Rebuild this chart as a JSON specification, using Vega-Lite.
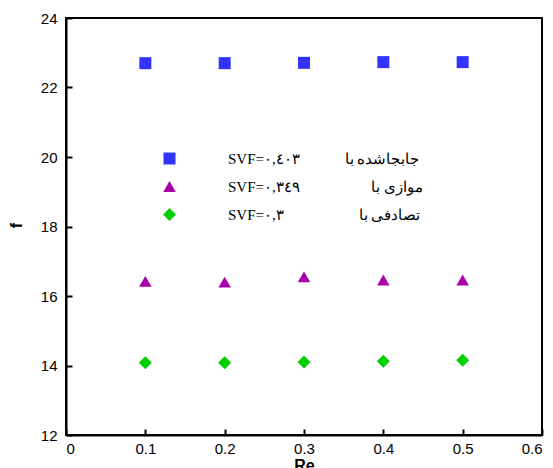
{
  "$schema": "https://vega.github.io/schema/vega-lite/v6.json",
  "width": 476,
  "height": 417,
  "autosize": {"type": "none"},
  "padding": {"left": 66, "top": 18, "right": 11, "bottom": 33},
  "background": "white",
  "config": {
    "view": {"stroke": "black", "strokeWidth": 2},
    "axis": {
      "grid": false,
      "domainColor": "black",
      "domainWidth": 2,
      "tickColor": "black",
      "tickWidth": 2,
      "tickSize": -6,
      "labelFont": "Liberation Sans",
      "labelFontSize": 15,
      "labelColor": "black",
      "titleFont": "Liberation Sans",
      "titleFontSize": 16,
      "titleFontWeight": "bold",
      "titleColor": "black"
    }
  },
  "data": {
    "values": [
      {"Re": 0.1, "f": 22.70, "s": "a"},
      {"Re": 0.2, "f": 22.70, "s": "a"},
      {"Re": 0.3, "f": 22.71, "s": "a"},
      {"Re": 0.4, "f": 22.73, "s": "a"},
      {"Re": 0.5, "f": 22.73, "s": "a"},
      {"Re": 0.1, "f": 16.42, "s": "b"},
      {"Re": 0.2, "f": 16.40, "s": "b"},
      {"Re": 0.3, "f": 16.55, "s": "b"},
      {"Re": 0.4, "f": 16.46, "s": "b"},
      {"Re": 0.5, "f": 16.46, "s": "b"},
      {"Re": 0.1, "f": 14.08, "s": "c"},
      {"Re": 0.2, "f": 14.08, "s": "c"},
      {"Re": 0.3, "f": 14.10, "s": "c"},
      {"Re": 0.4, "f": 14.12, "s": "c"},
      {"Re": 0.5, "f": 14.15, "s": "c"}
    ]
  },
  "mark": {"type": "point", "filled": true, "opacity": 1, "strokeWidth": 0},
  "encoding": {
    "x": {
      "field": "Re",
      "type": "quantitative",
      "scale": {"domain": [0, 0.6], "nice": false, "zero": false},
      "axis": {
        "values": [0, 0.1, 0.2, 0.3, 0.4, 0.5, 0.6],
        "format": ".1~f",
        "title": "Re",
        "labelPadding": 12,
        "titleBaseline": "top",
        "titleY": 22
      }
    },
    "y": {
      "field": "f",
      "type": "quantitative",
      "scale": {"domain": [12, 24], "nice": false, "zero": false},
      "axis": {
        "values": [12, 14, 16, 18, 20, 22, 24],
        "title": "f",
        "labelPadding": 15,
        "titleX": -50,
        "titleY": 207,
        "titleBaseline": "middle"
      }
    },
    "color": {
      "field": "s",
      "type": "nominal",
      "scale": {"domain": ["a", "b", "c"], "range": ["#3333ff", "#aa00aa", "#00d000"]},
      "legend": {
        "orient": "none",
        "legendX": 96,
        "legendY": 133,
        "title": null,
        "padding": 0,
        "rowPadding": 12,
        "labelOffset": 51,
        "labelLimit": 400,
        "labelFont": "Liberation Serif",
        "labelFontSize": 15,
        "labelColor": "black",
        "symbolStrokeWidth": 0,
        "labelExpr": "datum.label == 'a' ? 'SVF=٠,٤٠٣\u200e\u00a0\u00a0\u00a0\u00a0\u00a0\u00a0\u00a0\u00a0\u00a0\u00a0\u00a0\u00a0جابجاشده با' : datum.label == 'b' ? 'SVF=٠,٣٤٩\u200e\u00a0\u00a0\u00a0\u00a0\u00a0\u00a0\u00a0\u00a0\u00a0\u00a0\u00a0\u00a0\u00a0\u00a0\u00a0\u00a0\u00a0\u00a0\u00a0موازی با' : 'SVF=٠,٣\u200e\u00a0\u00a0\u00a0\u00a0\u00a0\u00a0\u00a0\u00a0\u00a0\u00a0\u00a0\u00a0\u00a0\u00a0\u00a0\u00a0\u00a0\u00a0\u00a0\u00a0تصادفی  با'"
      }
    },
    "shape": {
      "field": "s",
      "type": "nominal",
      "scale": {"domain": ["a", "b", "c"], "range": ["square", "triangle-up", "diamond"]}
    },
    "size": {
      "field": "s",
      "type": "nominal",
      "scale": {"domain": ["a", "b", "c"], "range": [144, 169, 256]}
    }
  }
}
